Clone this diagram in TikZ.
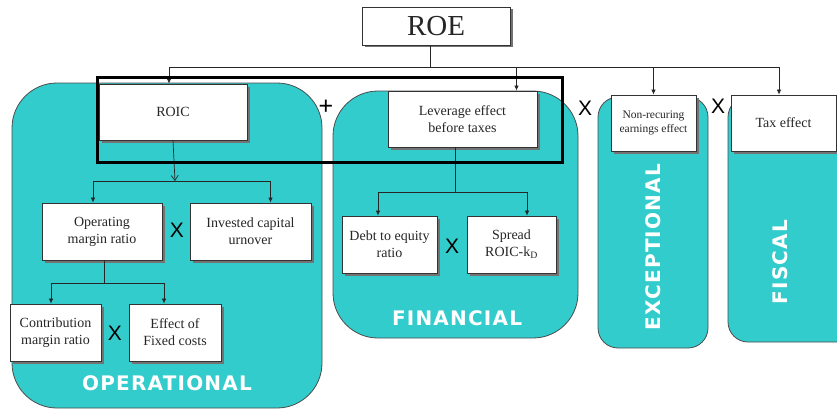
\documentclass[tikz,border=0pt]{standalone}
\usepackage{fontspec}
\setmainfont{Liberation Serif}
\newfontfamily\xfont{Liberation Sans}
\newfontfamily\labfont[LetterSpace=6]{DejaVu Sans}
\usetikzlibrary{arrows.meta,shadows,calc}
\definecolor{tealpanel}{HTML}{33CCCC}
\begin{document}
\begin{tikzpicture}[x=1pt,y=-1pt,
 panel/.style={fill=tealpanel,draw=black!70,line width=0.8pt},
 box/.style={draw=black!80,fill=white,line width=0.8pt,align=center,inner sep=1pt,
   font=\fontsize{14}{17}\selectfont,text=black!85,
   drop shadow={shadow xshift=2.5pt,shadow yshift=-2.5pt,fill=black!55,opacity=1}},
 lab/.style={text=white,font=\labfont\bfseries\fontsize{20}{24}\selectfont,inner sep=0pt},
 opsym/.style={font=\xfont\fontsize{21}{24}\selectfont,inner sep=0pt},
 conn/.style={draw=black!85,line width=0.7pt},
 arr/.style={conn,-{Latex[length=5pt,width=4.5pt]}},
 openarr/.style={conn,-{Straight Barb[length=5pt,width=7pt]}},
]
\useasboundingbox (0,0) rectangle (837,412);
% panels
\draw[panel,rounded corners=45pt] (12,83) rectangle (322,408);
\draw[panel,rounded corners=45pt] (333,91) rectangle (578,338);
\draw[panel,rounded corners=20pt] (598,97) rectangle (708,348);
\draw[panel,rounded corners=20pt] (728,97) rectangle (870,342);
% boxes
\node[box,minimum width=148pt,minimum height=38pt,font=\fontsize{29}{32}\selectfont] (roe) at (436,26) {ROE};
\node[box,minimum width=148pt,minimum height=56pt] (roic) at (173,112) {ROIC};
\node[box,minimum width=149pt,minimum height=56pt] (lev) at (462.5,119) {Leverage effect\\before taxes};
\node[box,minimum width=85pt,minimum height=56pt,font=\fontsize{11.5}{13.5}\selectfont] (nre) at (653.5,123) {Non-recuring\\earnings effect};
\node[box,minimum width=105pt,minimum height=56pt] (tax) at (783.5,123) {Tax effect};
\node[box,minimum width=120pt,minimum height=57pt] (op) at (102,231.5) {Operating\\margin ratio};
\node[box,minimum width=121pt,minimum height=57pt] (inv) at (250.5,231.5) {Invested capital\\urnover};
\node[box,minimum width=91pt,minimum height=57pt] (contr) at (55.5,332.5) {Contribution\\margin ratio};
\node[box,minimum width=92pt,minimum height=57pt] (eff) at (175,332.5) {Effect of\\Fixed costs};
\node[box,minimum width=95pt,minimum height=57pt] (debt) at (389.5,244.5) {Debt to equity\\ratio};
\node[box,minimum width=89pt,minimum height=57pt] (spread) at (511.5,244.5) {Spread\\ROIC-k\textsubscript{D}};
% top connectors
\coordinate (bus) at (430,67);
\coordinate (busL) at (169,67);
\coordinate (busR) at (779,67);
\draw[conn] ([xshift=-6pt]roe.south) -- (bus);
\draw[conn] (busL) -- (busR);
\draw[arr] (busL) -- (busL |- roic.north);
\draw[arr] ([xshift=54pt]lev.north |- bus) -- ([xshift=54pt]lev.north);
\draw[arr] (nre.north |- bus) -- (nre.north);
\draw[arr] (busR) -- (busR |- tax.north);
% operational connectors
\coordinate (obus) at (175,181);
\draw[openarr] (roic.south) -- (obus);
\draw[conn] ([xshift=-9pt]op.north |- obus) -- ([xshift=20pt]inv.north |- obus);
\draw[arr] ([xshift=-9pt]op.north |- obus) -- ([xshift=-9pt]op.north);
\draw[arr] ([xshift=20pt]inv.north |- obus) -- ([xshift=20pt]inv.north);
\coordinate (cbus) at (104,283);
\draw[conn] ([xshift=2pt]op.south) -- (cbus);
\draw[conn] ([xshift=-4.5pt]contr.north |- cbus) -- ([xshift=-11pt]eff.north |- cbus);
\draw[arr] ([xshift=-4.5pt]contr.north |- cbus) -- ([xshift=-4.5pt]contr.north);
\draw[arr] ([xshift=-11pt]eff.north |- cbus) -- ([xshift=-11pt]eff.north);
% financial connectors
\coordinate (fbus) at (455,192);
\draw[conn] ([xshift=-7.5pt]lev.south) -- (fbus);
\draw[conn] ([xshift=-11.5pt]debt.north |- fbus) -- ([xshift=15.5pt]spread.north |- fbus);
\draw[arr] ([xshift=-11.5pt]debt.north |- fbus) -- ([xshift=-11.5pt]debt.north);
\draw[arr] ([xshift=15.5pt]spread.north |- fbus) -- ([xshift=15.5pt]spread.north);
% operators
\node[font=\xfont\fontsize{25}{28}\selectfont,inner sep=0pt] (plus) at (326,107) {+};
\node[opsym] (x1) at (585,108) {X};
\node[opsym] (x2) at (718,106) {X};
\node[opsym] (x3) at (177,230) {X};
\node[opsym] (x4) at (115,333) {X};
\node[opsym] (x5) at (452,246) {X};
% labels
\node[lab] (l1) at (167,383) {OPERATIONAL};
\node[lab] (l2) at (457,318) {FINANCIAL};
\node[lab,rotate=90] (l3) at (653,247) {EXCEPTIONAL};
\node[lab,rotate=90] (l4) at (780,262) {FISCAL};
% thick frame
\draw[line width=3pt] (97,77) rectangle (562,162);
\end{tikzpicture}
\end{document}
